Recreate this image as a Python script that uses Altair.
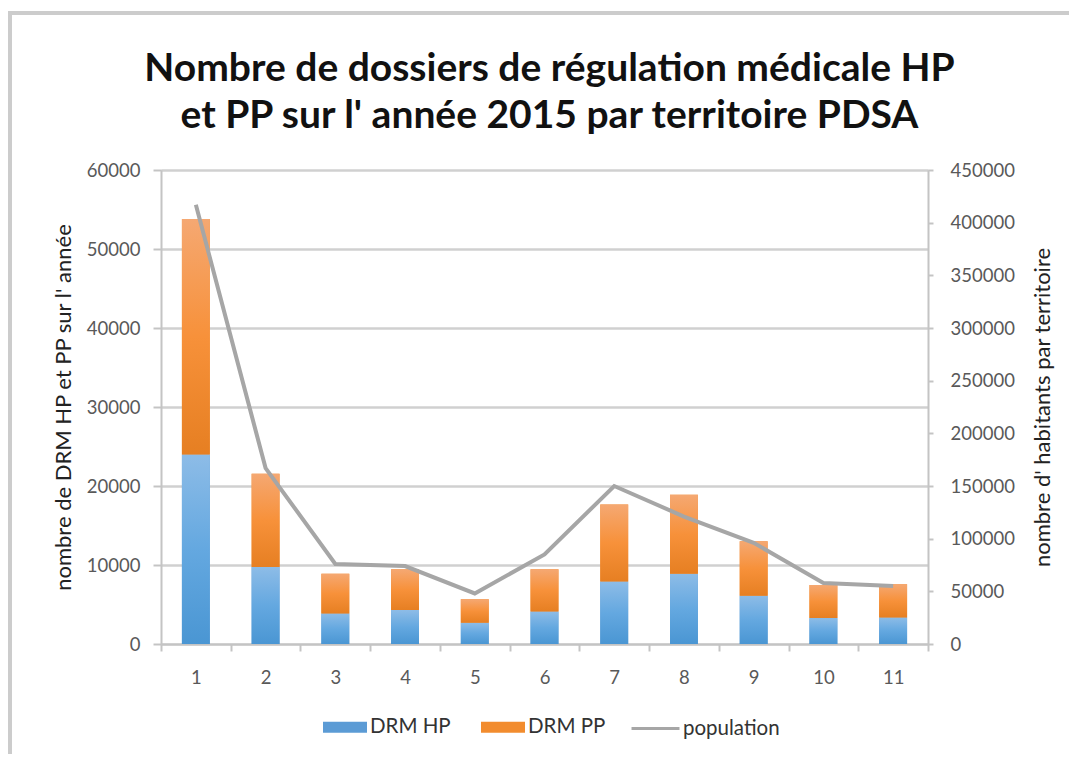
import altair as alt
import pandas as pd

territoires = ["1", "2", "3", "4", "5", "6", "7", "8", "9", "10", "11"]
drm_hp = [24000, 9750, 3870, 4290, 2690, 4120, 7900, 8900, 6100, 3280, 3360]
drm_pp = [29800, 11800, 5030, 5160, 2980, 5330, 9750, 10000, 6900, 4200, 4200]
population = [417000, 167000, 76000, 74000, 48000, 85000, 150000, 121000, 96000, 58000, 55000]

wide = pd.DataFrame({
    "territoire": territoires,
    "hp": drm_hp,
    "pp": drm_pp,
    "population": population,
})
wide["total"] = wide["hp"] + wide["pp"]

long = pd.DataFrame({
    "territoire": territoires * 2,
    "serie": ["DRM HP"] * len(territoires) + ["DRM PP"] * len(territoires),
    "valeur": drm_hp + drm_pp,
    "ordre": [0] * len(territoires) + [1] * len(territoires),
})

FONT = "Lato"
LABEL = "#595959"
GRID = "#d0d0d0"
AXC = "#c4c4c4"
LBL = 18.5
TTL = 22
LEG = 20.5

x_enc = alt.X(
    "territoire:N",
    sort=territoires,
    scale=alt.Scale(paddingInner=0, paddingOuter=0),
    axis=alt.Axis(
        title=None, labelAngle=0, tickBand="extent", tickSize=7, tickWidth=2,
        tickColor=AXC, domainColor=AXC, domainWidth=2,
        labelFont=FONT, labelFontSize=LBL, labelColor=LABEL, labelPadding=17,
        grid=False,
    ),
)

y_left_axis = alt.Axis(
    title="nombre de DRM HP et PP sur l' année",
    values=[0, 10000, 20000, 30000, 40000, 50000, 60000],
    format="d", grid=True, gridColor=GRID, gridWidth=2.5,
    tickSize=8, tickWidth=2, tickColor=AXC,
    domainColor=AXC, domainWidth=2,
    labelFont=FONT, labelFontSize=LBL, labelColor=LABEL, labelPadding=13,
    titleFont=FONT, titleFontSize=TTL, titleFontWeight="normal", titleColor="#222222",
    titlePadding=11,
)

y_scale = alt.Scale(domain=[0, 60000], nice=False)

# solid bars that carry the legend
base_bars = alt.Chart(long).mark_bar(width=alt.RelativeBandSize(0.4)).encode(
    x=x_enc,
    y=alt.Y("valeur:Q", stack="zero", scale=y_scale, axis=y_left_axis),
    color=alt.Color(
        "serie:N",
        scale=alt.Scale(domain=["DRM HP", "DRM PP"], range=["#5b9bd5", "#f28c2e"]),
        legend=alt.Legend(
            title=None, orient="none", legendX=162, legendY=535, direction="horizontal",
            symbolType="M-1,-0.25H1V0.25H-1Z", symbolSize=1936, symbolStrokeWidth=0,
            labelFont=FONT, labelFontSize=LEG, labelColor="#333333", labelOffset=3,
            columnPadding=30, padding=0,
        ),
    ),
    order=alt.Order("ordre:Q"),
)

grad_hp = alt.Gradient(
    gradient="linear", x1=0, x2=0, y1=0, y2=1,
    stops=[alt.GradientStop(color="#8dbce7", offset=0),
           alt.GradientStop(color="#64a8e0", offset=0.5),
           alt.GradientStop(color="#4a96d3", offset=1)],
)
grad_pp = alt.Gradient(
    gradient="linear", x1=0, x2=0, y1=0, y2=1,
    stops=[alt.GradientStop(color="#f5a872", offset=0),
           alt.GradientStop(color="#f7913a", offset=0.5),
           alt.GradientStop(color="#e67f22", offset=1)],
)

hp_bars = alt.Chart(wide).mark_bar(width=alt.RelativeBandSize(0.4), color=grad_hp).encode(
    x=x_enc,
    y=alt.Y("hp:Q", scale=y_scale),
)
pp_bars = alt.Chart(wide).mark_bar(width=alt.RelativeBandSize(0.4), color=grad_pp).encode(
    x=x_enc,
    y=alt.Y("total:Q", scale=y_scale),
    y2="hp:Q",
)

left = alt.layer(base_bars, hp_bars, pp_bars)

wide_line = wide.assign(serie_ligne="population")
line = alt.Chart(wide_line).mark_line(strokeWidth=4).encode(
    x=x_enc,
    y=alt.Y(
        "population:Q",
        scale=alt.Scale(domain=[0, 450000], nice=False),
        axis=alt.Axis(
            title="nombre d' habitants par territoire", orient="right",
            values=list(range(0, 450001, 50000)), format="d", grid=False,
            tickSize=5, tickWidth=2, tickColor=AXC,
            domainColor=AXC, domainWidth=2,
            labelFont=FONT, labelFontSize=LBL, labelColor=LABEL, labelPadding=17,
            titleFont=FONT, titleFontSize=TTL, titleFontWeight="normal", titleColor="#222222",
            titleAngle=270, titlePadding=40,
        ),
    ),
    stroke=alt.Stroke(
        "serie_ligne:N",
        scale=alt.Scale(domain=["population"], range=["#a6a6a6"]),
        legend=alt.Legend(
            title=None, orient="none", legendX=469, legendY=533,
            symbolType="stroke", symbolSize=2300, symbolStrokeWidth=3,
            labelFont=FONT, labelFontSize=LEG, labelColor="#333333", labelOffset=2,
            padding=0,
        ),
    ),
)

frame = alt.Chart(pd.DataFrame({"k": [0]})).mark_rect(
    fill=None, stroke="#cccccc", strokeWidth=4, clip=False
).encode(
    x=alt.value(-151), x2=alt.value(1000), y=alt.value(-157), y2=alt.value(700),
)

chart = alt.layer(frame, left, line).resolve_scale(
    y="independent", color="independent", stroke="independent"
).properties(
    width=767,
    height=474,
    padding={"left": 153, "top": 162, "right": 141, "bottom": 110},
    autosize=alt.AutoSizeParams(type="none"),
    title=alt.Title(
        text=["Nombre de dossiers de régulation médicale HP",
              "et PP sur l' année 2015 par territoire PDSA"],
        font=FONT, fontSize=39, fontWeight="bold", color="#111111",
        anchor="middle", offset=0, lineHeight=47, dx=5, dy=125,
    ),
).configure_view(stroke=None).configure(background="white")

chart.save("out.html", embed_options={"renderer": "svg", "actions": False})
